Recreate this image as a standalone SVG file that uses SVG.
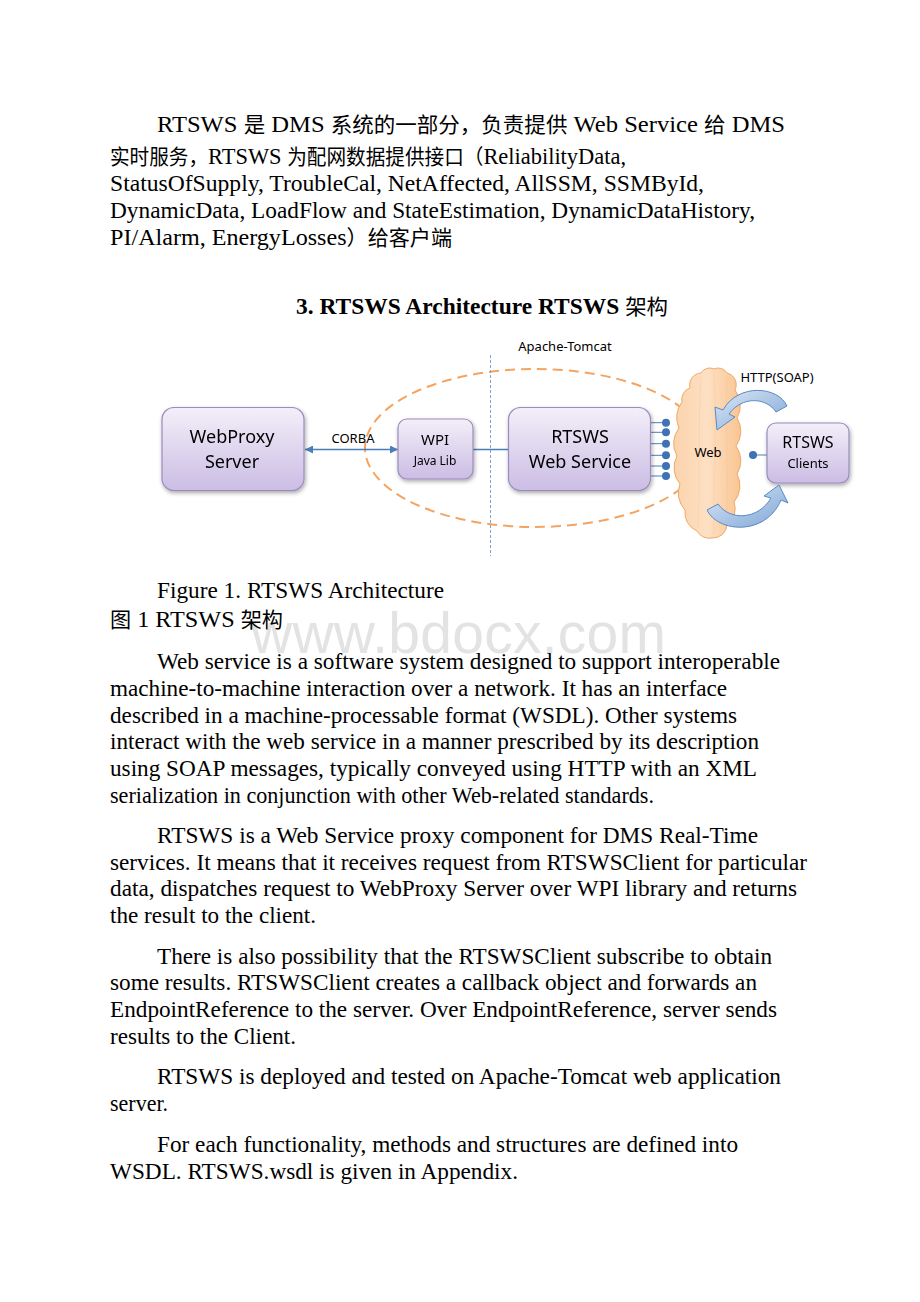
<svg xmlns="http://www.w3.org/2000/svg" width="920" height="1302" viewBox="0 0 920 1302">
<style>
.body{font-family:"Liberation Serif","Noto Sans CJK SC",serif;font-size:24px;fill:#000}
.head{font-family:"Liberation Serif","Noto Sans CJK SC",serif;font-size:23px;font-weight:bold;fill:#000}
.cj{font-family:"Noto Sans CJK SC",sans-serif;font-size:21px;font-weight:normal}
.lbl{font-family:"Noto Sans","Open Sans",sans-serif;fill:#000;text-anchor:middle}
.box{fill:url(#boxg);stroke:#9a8cbf;stroke-width:1.2}
.wm{font-family:"Liberation Sans",Arial,sans-serif;font-size:57px;fill:#e3e3e3}
.conn{stroke:#4a7ebb;stroke-width:1.3;fill:none}
.dot{fill:#3f72b5}
.carrow{fill:url(#arrg);stroke:#5b8ac4;stroke-width:1}
</style>
<defs>
<linearGradient id="boxg" x1="0" y1="0" x2="0" y2="1">
<stop offset="0" stop-color="#f3eff9"/>
<stop offset="1" stop-color="#cbbde4"/>
</linearGradient>
<linearGradient id="cloudg" x1="0" y1="0" x2="1" y2="0">
<stop offset="0" stop-color="#fbd3ac"/>
<stop offset="0.5" stop-color="#fde0c3"/>
<stop offset="1" stop-color="#f9c592"/>
</linearGradient>
<linearGradient id="arrg" x1="0" y1="0" x2="1" y2="1">
<stop offset="0" stop-color="#dce8f6"/>
<stop offset="1" stop-color="#7ea6d6"/>
</linearGradient>
<filter id="sh" x="-10%" y="-10%" width="130%" height="140%">
<feGaussianBlur in="SourceAlpha" stdDeviation="2"/>
<feOffset dx="1" dy="2" result="b"/>
<feComponentTransfer><feFuncA type="linear" slope="0.35"/></feComponentTransfer>
<feMerge><feMergeNode/><feMergeNode in="SourceGraphic"/></feMerge>
</filter>
<marker id="ah" viewBox="0 0 10 10" refX="10" refY="5" markerWidth="8" markerHeight="8" markerUnits="userSpaceOnUse" orient="auto-start-reverse">
<path d="M0 0 L10 5 L0 10 Z" fill="#4a7ebb"/>
</marker>
</defs>
<rect width="920" height="1302" fill="#fff"/>

<text class="wm" x="251" y="653" textLength="415">www.bdocx.com</text>

<g id="para-intro">
<text class="body" x="157" y="132" textLength="628" lengthAdjust="spacingAndGlyphs">RTSWS <tspan class="cj">是</tspan> DMS <tspan class="cj">系统的一部分，负责提供</tspan> Web Service <tspan class="cj">给</tspan> DMS</text>
<text class="body" x="110" y="164" textLength="516" lengthAdjust="spacingAndGlyphs"><tspan class="cj">实时服务，</tspan>RTSWS <tspan class="cj">为配网数据提供接口（</tspan>ReliabilityData,</text>
<text class="body" x="110" y="191" textLength="594" lengthAdjust="spacingAndGlyphs">StatusOfSupply, TroubleCal, NetAffected, AllSSM, SSMById,</text>
<text class="body" x="110" y="218" textLength="645" lengthAdjust="spacingAndGlyphs">DynamicData, LoadFlow and StateEstimation, DynamicDataHistory,</text>
<text class="body" x="110" y="245" textLength="342" lengthAdjust="spacingAndGlyphs">PI/Alarm, EnergyLosses<tspan class="cj">）给客户端</tspan></text>
</g>

<text id="heading" class="head" x="296" y="314" textLength="372" lengthAdjust="spacingAndGlyphs">3. RTSWS Architecture RTSWS <tspan class="cj" font-weight="bold">架构</tspan></text>

<g id="boundary">
<ellipse cx="535" cy="448" rx="170" ry="79" fill="none" stroke="#f4a460" stroke-width="2" stroke-dasharray="10 6"/>
<line x1="490.5" y1="355" x2="490.5" y2="556" stroke="#7ea3cf" stroke-width="1" stroke-dasharray="3 2"/>
<text class="lbl" x="565" y="351" font-size="13">Apache-Tomcat</text>
</g>

<g id="connectors">
<line class="conn" x1="305" y1="449.5" x2="398" y2="449.5" marker-start="url(#ah)" marker-end="url(#ah)"/>
<text class="lbl" x="353" y="443" font-size="13">CORBA</text>
<line class="conn" x1="473" y1="449.5" x2="509" y2="449.5"/>
<g stroke="#4a7ebb" stroke-width="1">
<line x1="650" y1="422.7" x2="666" y2="422.7"/>
<line x1="650" y1="432.3" x2="666" y2="432.3"/>
<line x1="650" y1="443.7" x2="666" y2="443.7"/>
<line x1="650" y1="455.3" x2="666" y2="455.3"/>
<line x1="650" y1="466" x2="666" y2="466"/>
<line x1="650" y1="476" x2="666" y2="476"/>
<line x1="753" y1="455" x2="767" y2="455"/>
</g>
<g class="dot">
<circle cx="666" cy="422.7" r="4"/>
<circle cx="666" cy="432.3" r="4"/>
<circle cx="666" cy="443.7" r="4"/>
<circle cx="666" cy="455.3" r="4"/>
<circle cx="666" cy="466" r="4"/>
<circle cx="666" cy="476" r="4"/>
<circle cx="753" cy="455" r="4"/>
</g>
</g>

<g id="node-webproxy" filter="url(#sh)">
<rect class="box" x="162" y="407.5" width="142" height="83" rx="12"/>
<text class="lbl" x="232" y="443" font-size="18">WebProxy</text>
<text class="lbl" x="232" y="468" font-size="18">Server</text>
</g>

<g id="node-wpi" filter="url(#sh)">
<rect class="box" x="398" y="419" width="75" height="60" rx="9"/>
<text class="lbl" x="435" y="445" font-size="15">WPI</text>
<text class="lbl" x="435" y="465" font-size="12">Java Lib</text>
</g>

<g id="node-rtsws" filter="url(#sh)">
<rect class="box" x="508.5" y="407.5" width="142" height="83" rx="12"/>
<text class="lbl" x="580" y="443" font-size="18">RTSWS</text>
<text class="lbl" x="580" y="468" font-size="18">Web Service</text>
</g>

<g id="node-web">
<path d="M 690 388 A 12 12 0 0 1 701 373 A 10 10 0 0 1 714 369 A 10 10 0 0 1 727 373 A 12 12 0 0 1 735 390 A 25 25 0 0 1 737 418 A 25 25 0 0 1 736 446 A 25 25 0 0 1 737 474 A 25 25 0 0 1 734 502 A 20 20 0 0 1 727 525 A 14 14 0 0 1 712 538 A 14 14 0 0 1 697 531 A 20 20 0 0 1 685 510 A 25 25 0 0 1 680 484 A 25 25 0 0 1 677 456 A 25 25 0 0 1 679 428 A 25 25 0 0 1 682 402 A 12 12 0 0 1 690 388 Z" fill="url(#cloudg)" stroke="#f0a868" stroke-width="1"/>
<g stroke="#f3b27a" stroke-width="0.6" fill="none" opacity="0.35">
<path d="M701 376 C 698 420, 700 480, 698 528"/>
<path d="M714 372 C 717 430, 713 490, 714 535"/>
<path d="M727 376 C 725 430, 729 480, 726 524"/>
</g>
<text class="lbl" x="708" y="457" font-size="13">Web</text>
</g>

<g id="node-clients" filter="url(#sh)">
<rect class="box" x="767" y="423" width="82" height="60" rx="9"/>
<text class="lbl" x="808" y="448" font-size="16">RTSWS</text>
<text class="lbl" x="808" y="468" font-size="13">Clients</text>
</g>

<g id="http-arrows">
<path class="carrow" d="M 787 406 C 778 386, 738 383, 723 410 L 715 407 L 717 430 L 735 417 L 729 414 C 742 396, 766 397, 776 412 Z"/>
<path class="carrow" d="M 707 510 C 718 533, 766 536, 781 500 L 788 503 L 779 485 L 764 496 L 771 498 C 758 520, 730 521, 718 504 Z"/>
<text class="lbl" x="777" y="382" font-size="13">HTTP(SOAP)</text>
</g>

<g id="caption">
<text class="body" x="157" y="598" textLength="287" lengthAdjust="spacingAndGlyphs">Figure 1. RTSWS Architecture</text>
<text class="body" x="110" y="627" textLength="173" lengthAdjust="spacingAndGlyphs"><tspan class="cj">图</tspan> 1 RTSWS <tspan class="cj">架构</tspan></text>
</g>

<g id="para-ws">
<text class="body" x="157" y="669" textLength="623" lengthAdjust="spacingAndGlyphs">Web service is a software system designed to support interoperable</text>
<text class="body" x="110" y="696" textLength="617" lengthAdjust="spacingAndGlyphs">machine-to-machine interaction over a network. It has an interface</text>
<text class="body" x="110" y="723" textLength="627" lengthAdjust="spacingAndGlyphs">described in a machine-processable format (WSDL). Other systems</text>
<text class="body" x="110" y="749" textLength="649" lengthAdjust="spacingAndGlyphs">interact with the web service in a manner prescribed by its description</text>
<text class="body" x="110" y="776" textLength="647" lengthAdjust="spacingAndGlyphs">using SOAP messages, typically conveyed using HTTP with an XML</text>
<text class="body" x="110" y="803" textLength="544" lengthAdjust="spacingAndGlyphs">serialization in conjunction with other Web-related standards.</text>
</g>

<g id="para-rtsws">
<text class="body" x="157" y="843" textLength="601" lengthAdjust="spacingAndGlyphs">RTSWS is a Web Service proxy component for DMS Real-Time</text>
<text class="body" x="110" y="870" textLength="697" lengthAdjust="spacingAndGlyphs">services. It means that it receives request from RTSWSClient for particular</text>
<text class="body" x="110" y="896" textLength="687" lengthAdjust="spacingAndGlyphs">data, dispatches request to WebProxy Server over WPI library and returns</text>
<text class="body" x="110" y="923" textLength="206" lengthAdjust="spacingAndGlyphs">the result to the client.</text>
</g>

<g id="para-sub">
<text class="body" x="157" y="964" textLength="615" lengthAdjust="spacingAndGlyphs">There is also possibility that the RTSWSClient subscribe to obtain</text>
<text class="body" x="110" y="990" textLength="647" lengthAdjust="spacingAndGlyphs">some results. RTSWSClient creates a callback object and forwards an</text>
<text class="body" x="110" y="1017" textLength="667" lengthAdjust="spacingAndGlyphs">EndpointReference to the server. Over EndpointReference, server sends</text>
<text class="body" x="110" y="1044" textLength="186" lengthAdjust="spacingAndGlyphs">results to the Client.</text>
</g>

<g id="para-deploy">
<text class="body" x="157" y="1084" textLength="624" lengthAdjust="spacingAndGlyphs">RTSWS is deployed and tested on Apache-Tomcat web application</text>
<text class="body" x="110" y="1111" textLength="58" lengthAdjust="spacingAndGlyphs">server.</text>
</g>

<g id="para-wsdl">
<text class="body" x="157" y="1152" textLength="581" lengthAdjust="spacingAndGlyphs">For each functionality, methods and structures are defined into</text>
<text class="body" x="110" y="1179" textLength="408" lengthAdjust="spacingAndGlyphs">WSDL. RTSWS.wsdl is given in Appendix.</text>
</g>
</svg>
